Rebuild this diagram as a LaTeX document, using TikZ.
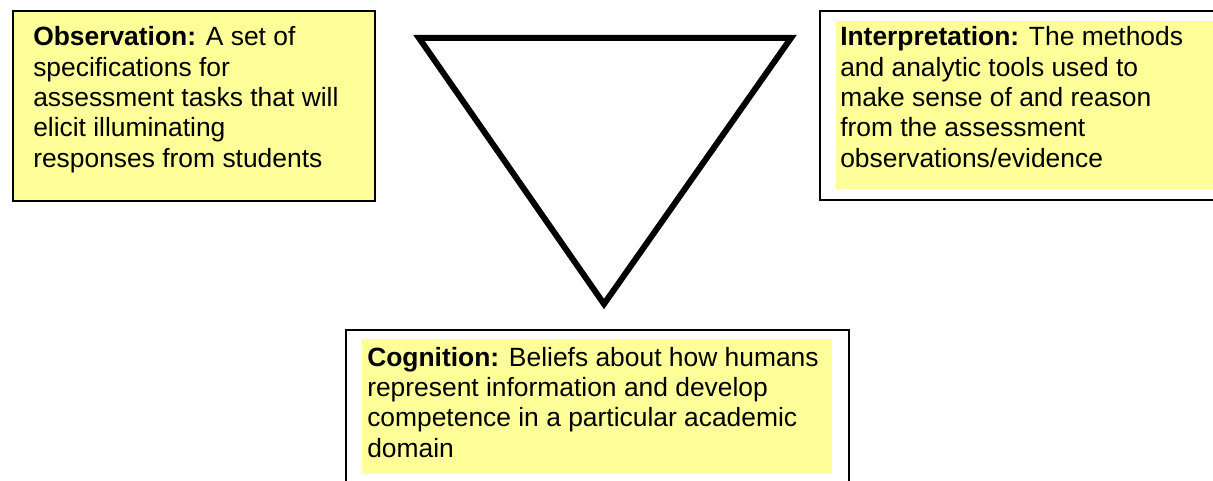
\documentclass[tikz,border=0pt]{standalone}
\usepackage{fontspec}
\setmainfont{Liberation Sans}
\definecolor{noteyellow}{HTML}{FFFF99}

\begin{document}
\begin{tikzpicture}[x=0.75pt, y=-0.75pt,
    frame/.style={draw, line width=1.5pt, inner sep=0pt, anchor=north west},
    note/.style={fill=noteyellow, inner sep=0pt, anchor=north west},
    txt/.style={anchor=base west, align=left, inner sep=0pt,
      font=\fontsize{19.8}{22.75}\selectfont}]
    \useasboundingbox (0,0) rectangle (1213,481);
    \clip (0,0) rectangle (1213,481);
    % observation box
    \node[frame, fill=noteyellow, minimum width=271.5pt, minimum height=142.5pt] (obs) at (12,10) {};
    \node[txt] (obstext) at (33,167) {\textbf{Observation:} A set of\\specifications for\\assessment tasks that will\\elicit illuminating\\responses from students};
    % interpretation box
    \node[frame, minimum width=304.5pt, minimum height=141.75pt] (interp) at (819,10) {};
    \node[note, minimum width=288pt, minimum height=126pt] (interpfill) at (836,21) {};
    \node[txt] (interptext) at (840,167) {\textbf{Interpretation:} The methods\\and analytic tools used to\\make sense of and reason\\from the assessment\\observations/evidence};
    % cognition box
    \node[frame, minimum width=377.25pt, minimum height=124.5pt] (cogn) at (345,329) {};
    \node[note, minimum width=352.5pt, minimum height=101.25pt] (cognfill) at (362,339) {};
    \node[txt] (cogntext) at (367,457) {\textbf{Cognition:} Beliefs about how humans\\represent information and develop\\competence in a particular academic\\domain};
    % triangle
    \coordinate (tl) at (419,38);
    \coordinate (tr) at (791,38);
    \coordinate (bt) at (604,304);
    \draw[line width=4.5pt] (tl) -- (tr) -- (bt) -- cycle;
  \end{tikzpicture}
\end{document}
